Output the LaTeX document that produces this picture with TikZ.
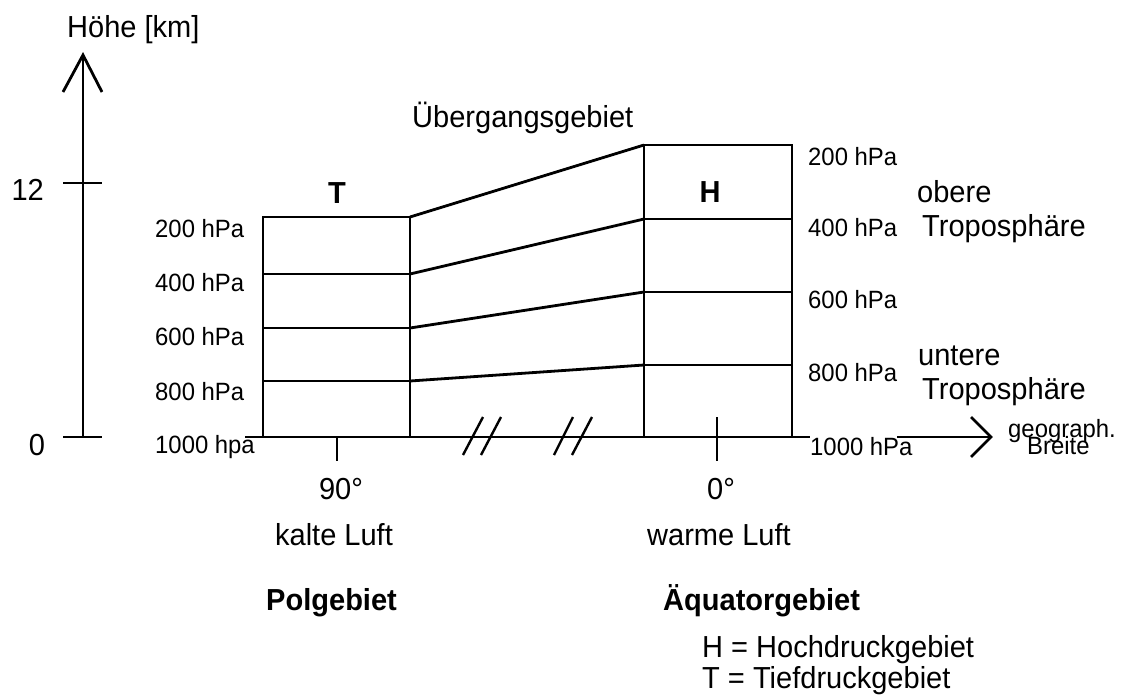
\documentclass[tikz,border=0pt]{standalone}
\usepackage{fontspec}
\setmainfont{Liberation Sans}[FakeStretch=0.955]
\newcommand{\bigtxt}{\fontsize{30.4}{35}\selectfont}
\newcommand{\smalltxt}{\fontsize{25}{29}\selectfont}
\tikzset{
  ln/.style={line width=2.8pt, line cap=butt, line join=miter},
  brk/.style={line width=2.4pt},
  big/.style={inner sep=0pt, font=\bigtxt},
  bigbold/.style={inner sep=0pt, font=\bigtxt\bfseries},
  small/.style={inner sep=0pt, font=\smalltxt},
}
\begin{document}
\begin{tikzpicture}[x=1pt,y=-1pt]
\useasboundingbox (0,0) rectangle (1122,694);

% height axis
\coordinate (ybot) at (83,437);
\coordinate (ytop) at (83,55);
\draw[ln] (ybot) -- (ytop);
\draw[ln] (63,92) -- (ytop) -- (102,92);
\draw[ln] (63,183) -- (102,183);
\draw[ln] (63,437) -- (102,437);
\node[big, anchor=base] (lab0) at (37,455) {0};
\node[big, anchor=base east] (lab12) at (44,200) {12};
\node[big, anchor=base west] (ylab) at (67,37) {Höhe [km]};

% latitude axis
\coordinate (xstart) at (245,437);
\coordinate (xgap1) at (810,437);
\coordinate (xgap2) at (897,437);
\coordinate (xtip) at (991,437);
\draw[ln] (xstart) -- (xgap1);
\draw[ln] (xgap2) -- (xtip);
\draw[ln] (971,417) -- (xtip) -- (971,457);
\node[small, anchor=base west] (geo1) at (1008,437) {geograph.};
\node[small, anchor=base west] (geo2) at (1027,454) {Breite};

% axis break marks
\draw[ln, brk] (463,455) -- (483,417);
\draw[ln, brk] (481,455) -- (501,417);
\draw[ln, brk] (554,455) -- (573,417);
\draw[ln, brk] (572,455) -- (592,417);

% latitude ticks
\draw[ln] (337,437) -- (337,461);
\draw[ln] (717,417) -- (717,461);

% polar column
\coordinate (p200) at (410,217);
\coordinate (p400) at (410,274);
\coordinate (p600) at (410,328);
\coordinate (p800) at (410,381);
\draw[ln] (263,217) rectangle (410,437);
\draw[ln] (263,274) -- (p400);
\draw[ln] (263,328) -- (p600);
\draw[ln] (263,381) -- (p800);
\node[bigbold] (T) at (337,193) {T};

% equatorial column
\coordinate (e200) at (644,145);
\coordinate (e400) at (644,219);
\coordinate (e600) at (644,292);
\coordinate (e800) at (644,365);
\draw[ln] (e200) rectangle (792,437);
\draw[ln] (e400) -- (792,219);
\draw[ln] (e600) -- (792,292);
\draw[ln] (e800) -- (792,365);
\node[bigbold] (H) at (710,192) {H};

% sloping pressure surfaces
\draw[ln] (p200) -- (e200);
\draw[ln] (p400) -- (e400);
\draw[ln] (p600) -- (e600);
\draw[ln] (p800) -- (e800);
\node[big, anchor=base west] (trans) at (412,127) {Übergangsgebiet};

% pressure labels, polar side
\node[small, anchor=west] (pl200) at (155,229) {200 hPa};
\node[small, anchor=west] (pl400) at (155,283) {400 hPa};
\node[small, anchor=west] (pl600) at (155,337) {600 hPa};
\node[small, anchor=west] (pl800) at (155,392) {800 hPa};
\node[small, anchor=west] (pl1000) at (155,447) {1000 hpa};

% pressure labels, equatorial side
\node[small, anchor=west] (el200) at (808,157) {200 hPa};
\node[small, anchor=west] (el400) at (808,228) {400 hPa};
\node[small, anchor=west] (el600) at (808,300) {600 hPa};
\node[small, anchor=west] (el800) at (808,373) {800 hPa};
\node[small, anchor=west] (el1000) at (810,447) {1000 hPa};

% layer names
\node[big, anchor=base west] (ob) at (917,202) {obere};
\node[big, anchor=base west] (tr1) at (922,236) {Troposphäre};
\node[big, anchor=base west] (un) at (918,365) {untere};
\node[big, anchor=base west] (tr2) at (922,399) {Troposphäre};

% captions below the axis
\node[big, anchor=base] (deg90) at (341,499) {90°};
\node[big, anchor=base] (deg0) at (721,499) {0°};
\node[big, anchor=base] (cold) at (334,545) {kalte Luft};
\node[big, anchor=base] (warm) at (719,545) {warme Luft};
\node[bigbold, anchor=base west] (pol) at (266,610) {Polgebiet};
\node[bigbold, anchor=base west] (aeq) at (663,610) {Äquatorgebiet};

% legend
\node[big, anchor=base west] (legH) at (702,657) {H = Hochdruckgebiet};
\node[big, anchor=base west] (legT) at (702,688) {T = Tiefdruckgebiet};
\end{tikzpicture}
\end{document}
